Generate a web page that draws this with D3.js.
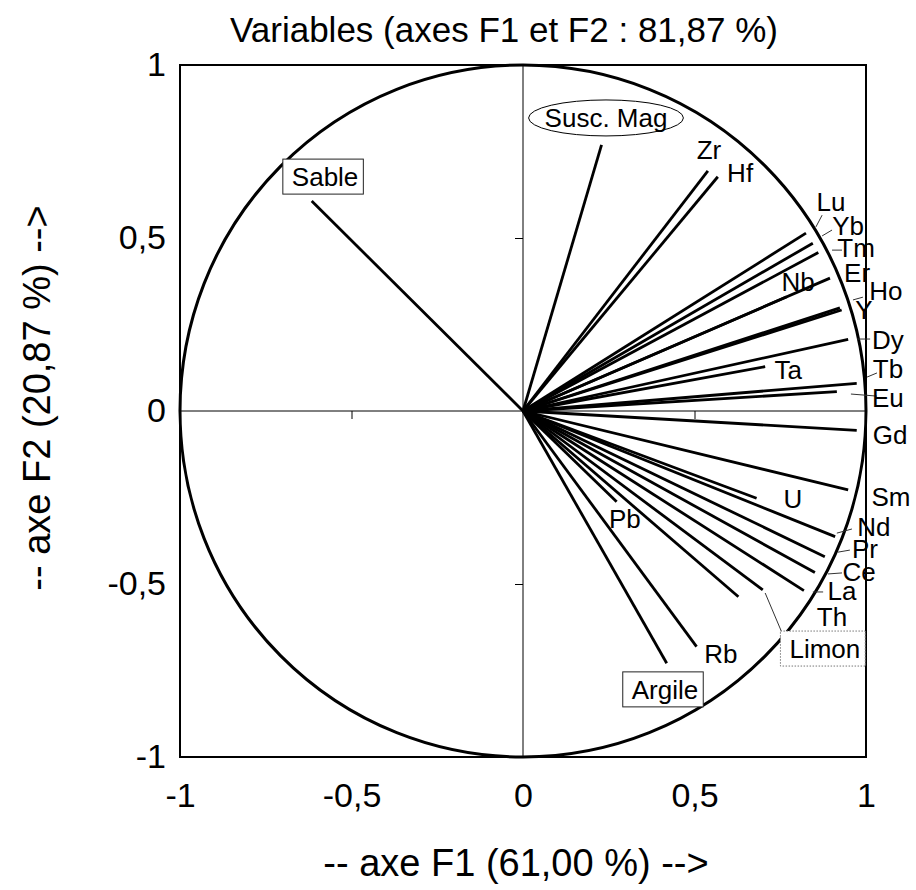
<!DOCTYPE html>
<html>
<head>
<meta charset="utf-8">
<script src="https://cdn.jsdelivr.net/npm/d3@7"></script>
<style>
  html, body { margin: 0; padding: 0; background: #fff; }
  svg { display: block; font-family: "Liberation Sans", Arial, sans-serif; }
</style>
</head>
<body>
<svg id="chart" width="916" height="890"></svg>
<script>
// ---- data ----
const variables = ["Sable","Susc. Mag","Zr","Hf","Lu","Yb","Tm","Er","Nb","Ho","Y","Dy","Ta","Tb","Eu","Gd","Sm","U","Nd","Pr","Ce","La","Limon","Th","Pb","Rb","Argile"];
const f1 = [-0.616, 0.229, 0.539, 0.568, 0.825, 0.845, 0.861, 0.895, 0.769, 0.924, 0.929, 0.948, 0.706, 0.973, 0.915, 0.973, 0.948, 0.681, 0.910, 0.880, 0.851, 0.819, 0.699, 0.628, 0.273, 0.506, 0.419];
const f2 = [ 0.607, 0.769, 0.694, 0.677, 0.514, 0.485, 0.458, 0.384, 0.330, 0.298, 0.292, 0.207, 0.128, 0.080, 0.056, -0.056, -0.228, -0.252, -0.363, -0.421, -0.467, -0.519, -0.517, -0.537, -0.262, -0.681, -0.729];
// label anchors (F1, F2 coordinates of label centres)
const labelF1 = [-0.577, 0.242, 0.542, 0.633, 0.898, 0.948, 0.971, 0.974, 0.802, 1.058, 0.994, 1.064, 0.773, 1.064, 1.064, 1.070, 1.073, 0.787, 1.023, 0.997, 0.980, 0.930, 0.880, 0.901, 0.297, 0.577, 0.414];
const labelF2 = [ 0.676, 0.847, 0.754, 0.688, 0.604, 0.535, 0.471, 0.399, 0.373, 0.347, 0.292, 0.205, 0.118, 0.121, 0.038, -0.069, -0.249, -0.254, -0.335, -0.399, -0.465, -0.520, -0.688, -0.595, -0.312, -0.702, -0.806];
// label frame style: none / box / dotted box / ellipse
const labelFrame = {"Sable":"box","Susc. Mag":"ellipse","Limon":"dotted","Argile":"box"};
// leader lines [variable, F1 start, F2 start, F1 end, F2 end]
const leaders = [
  ["Lu", 0.854, 0.532, 0.872, 0.566],
  ["Yb", 0.872, 0.506, 0.901, 0.523],
  ["Tm", 0.901, 0.465, 0.930, 0.465],
  ["Ho", 0.962, 0.321, 0.991, 0.329],
  ["Dy", 0.974, 0.208, 1.012, 0.208],
  ["Tb", 1.003, 0.098, 1.032, 0.110],
  ["Eu", 0.956, 0.049, 1.032, 0.043],
  ["Nd", 0.915, -0.353, 0.959, -0.341],
  ["Pr", 0.918, -0.408, 0.953, -0.402],
  ["Ce", 0.889, -0.471, 0.930, -0.468],
  ["La", 0.845, -0.523, 0.875, -0.523],
  ["Limon", 0.706, -0.526, 0.770, -0.676]
];
const axisTicks = [-1, -0.5, 0, 0.5, 1];
const innerTicks = [-0.5, 0.5];
const titleText = "Variables (axes F1 et F2 : 81,87 %)";
const xTitle = "-- axe F1 (61,00 %) -->";
const yTitle = "-- axe F2 (20,87 %) -->";

// ---- drawing ----
const svg = d3.select("#chart");
const x = d3.scaleLinear().domain([-1, 1]).range([180, 866]);
const y = d3.scaleLinear().domain([-1, 1]).range([757, 65]);
const fmt = d => String(d).replace(".", ",");

svg.append("rect").attr("width", 916).attr("height", 890).attr("fill", "#fff");

// zero lines
svg.append("line").attr("x1", x(0)).attr("x2", x(0)).attr("y1", y(1)).attr("y2", y(-1))
  .attr("stroke", "#000").attr("stroke-width", 1);
svg.append("line").attr("x1", x(-1)).attr("x2", x(1)).attr("y1", y(0)).attr("y2", y(0))
  .attr("stroke", "#000").attr("stroke-width", 1);

// inner ticks on the zero axes
const ix = svg.append("g").attr("transform", `translate(0,${y(0)})`)
  .call(d3.axisBottom(x).tickValues(innerTicks).tickSize(8).tickFormat(""));
const iy = svg.append("g").attr("transform", `translate(${x(0)},0)`)
  .call(d3.axisLeft(y).tickValues(innerTicks).tickSize(8).tickFormat(""));
[ix, iy].forEach(g => { g.select(".domain").remove(); g.selectAll("line").attr("stroke", "#000").attr("stroke-width", 1); });

// correlation circle
svg.append("ellipse")
  .attr("cx", x(0)).attr("cy", y(0))
  .attr("rx", x(1) - x(0)).attr("ry", y(0) - y(1))
  .attr("fill", "none").attr("stroke", "#000").attr("stroke-width", 3);

// frame
svg.append("rect").attr("x", x(-1)).attr("y", y(1))
  .attr("width", x(1) - x(-1)).attr("height", y(-1) - y(1))
  .attr("fill", "none").attr("stroke", "#000").attr("stroke-width", 2);

// tick labels
const gx = svg.append("g").attr("transform", `translate(0,${y(-1)})`)
  .call(d3.axisBottom(x).tickValues(axisTicks).tickSize(0).tickPadding(26).tickFormat(fmt));
const gy = svg.append("g").attr("transform", `translate(${x(-1)},0)`)
  .call(d3.axisLeft(y).tickValues(axisTicks).tickSize(0).tickPadding(14).tickFormat(fmt));
[gx, gy].forEach(g => {
  g.select(".domain").remove();
  g.selectAll("text").attr("font-size", 34).attr("fill", "#000")
    .attr("font-family", "'Liberation Sans', Arial, sans-serif");
});

// vectors
const data = variables.map((v, i) => ({name: v, f1: f1[i], f2: f2[i], lx: labelF1[i], ly: labelF2[i]}));
svg.append("g").selectAll("line").data(data).join("line")
  .attr("x1", x(0)).attr("y1", y(0))
  .attr("x2", d => x(d.f1)).attr("y2", d => y(d.f2))
  .attr("stroke", "#000").attr("stroke-width", 2.8).attr("stroke-linecap", "butt");

// leaders
svg.append("g").selectAll("line").data(leaders).join("line")
  .attr("x1", d => x(d[1])).attr("y1", d => y(d[2]))
  .attr("x2", d => x(d[3])).attr("y2", d => y(d[4]))
  .attr("stroke", "#333").attr("stroke-width", 1);

// labels
const lg = svg.append("g");
data.forEach(d => {
  const cx = x(d.lx), cy = y(d.ly);
  const t = lg.append("text").attr("x", cx).attr("y", cy)
    .attr("text-anchor", "middle").attr("dominant-baseline", "central")
    .attr("font-size", 26).attr("fill", "#000").text(d.name);
  const frame = labelFrame[d.name];
  if (frame) {
    const bb = t.node().getBBox();
    if (frame === "ellipse") {
      lg.insert("ellipse", "text").attr("cx", cx).attr("cy", cy)
        .attr("rx", bb.width / 2 + 16).attr("ry", 18)
        .attr("fill", "#fff").attr("stroke", "#000").attr("stroke-width", 1);
    } else {
      const padL = 9, padR = 5;
      lg.insert("rect", "text")
        .attr("x", bb.x - padL).attr("y", cy - 18)
        .attr("width", bb.width + padL + padR).attr("height", 35)
        .attr("fill", "#fff")
        .attr("stroke", frame === "dotted" ? "#777" : "#222")
        .attr("stroke-width", 1)
        .attr("stroke-dasharray", frame === "dotted" ? "1.5,1.5" : null);
    }
  }
});

// titles
svg.append("text").attr("x", 504).attr("y", 42).attr("text-anchor", "middle")
  .attr("font-size", 35).attr("fill", "#000").text(titleText);
svg.append("text").attr("x", 516).attr("y", 876).attr("text-anchor", "middle")
  .attr("font-size", 38).attr("fill", "#000").text(xTitle);
svg.append("text").attr("transform", `translate(50,398) rotate(-90)`).attr("text-anchor", "middle")
  .attr("font-size", 38).attr("fill", "#000").text(yTitle);
</script>
</body>
</html>
